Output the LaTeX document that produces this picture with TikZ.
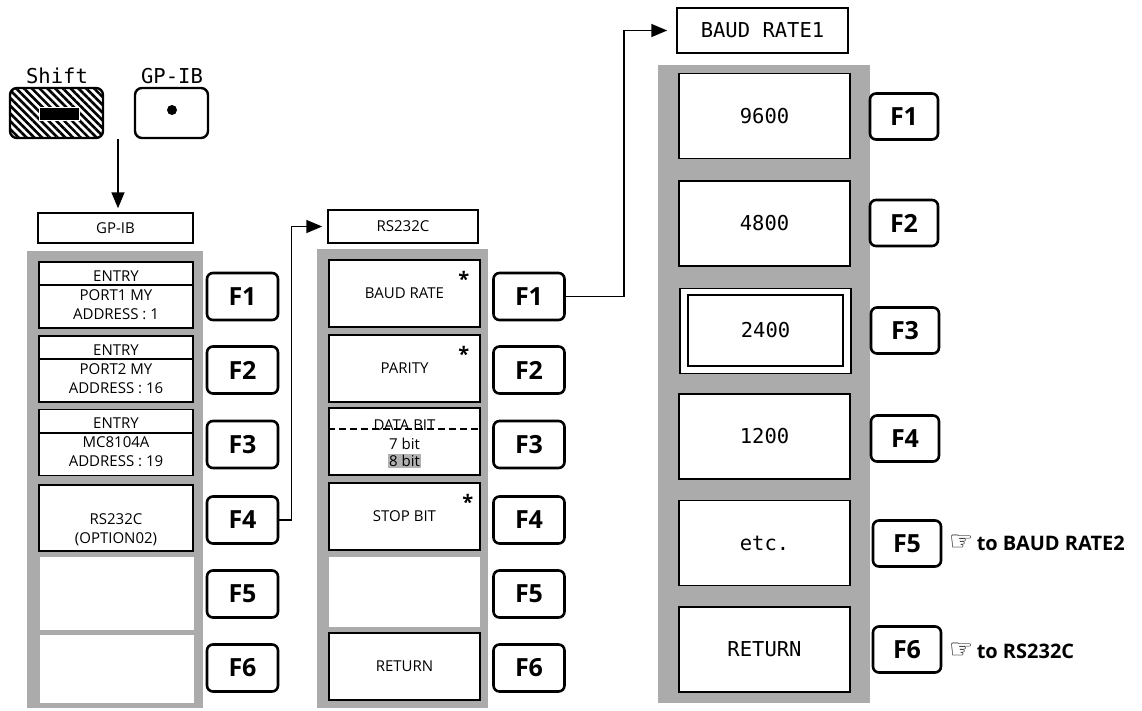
\documentclass[tikz,border=0pt]{standalone}
\usepackage{fontspec}
\setmainfont{Open Sans}
\newfontfamily\monof{DejaVu Sans Mono}
\newfontfamily\symf{DejaVu Sans}
\usetikzlibrary{arrows.meta,patterns.meta,calc}
\newcommand\menuf{\fontsize{15}{19}\selectfont}
\newcommand\fkeyf{\bfseries\fontsize{25}{25}\selectfont}
\newcommand\bigmono{\monof\fontsize{20.5}{20.5}\selectfont}
\begin{document}
\begin{tikzpicture}[x=1pt,y=-1pt,
  panel/.style={fill=black!33,inner sep=0pt},
  menuitem/.style={draw,line width=1.6pt,fill=white,inner sep=0pt,align=center,font=\menuf},
  monoitem/.style={draw,line width=1.6pt,fill=white,inner sep=0pt,align=center,font=\bigmono,minimum width=171pt,minimum height=85pt},
  blankitem/.style={fill=white,inner sep=0pt},
  fkey/.style={draw,line width=2.6pt,rounded corners=6pt,fill=white,inner sep=0pt,font=\fkeyf,minimum width=71pt,minimum height=47pt},
  titlebox/.style={draw,line width=1.5pt,inner sep=0pt,fill=white},
  keycap/.style={draw,line width=2.4pt,rounded corners=7pt,inner sep=0pt,minimum height=50pt},
  link/.style={line width=1.6pt,-{Triangle[length=16pt,width=13pt]}},
  star/.style={font=\bfseries\fontsize{20}{20}\selectfont,inner sep=0pt},
  note/.style={anchor=west,inner sep=0pt,font=\bfseries\fontsize{20}{20}\selectfont}
]
\useasboundingbox (0,0) rectangle (1142,710);

% ---------- keys ----------
\node[font=\bigmono] (shiftlbl) at (57,76) {Shift};
\node[font=\bigmono] (gplbl) at (172,76) {GP-IB};
\node[keycap,minimum width=93pt,pattern={Lines[angle=-45,distance=5.5pt,line width=2.6pt]}] (shift) at (56.5,113) {};
\node[fill=black,draw=white,line width=1pt,minimum width=40pt,minimum height=13pt,inner sep=0pt] (shiftbar) at (59,113.5) {};
\node[keycap,minimum width=73pt] (gpkey) at (171.5,113) {};
\node[circle,fill=black,inner sep=0pt,minimum size=10pt] (gpdot) at (172,110) {};

% ---------- GP-IB column ----------
\node[titlebox,font=\menuf,minimum width=155pt,minimum height=30pt] (gtitle) at (115.5,228) {GP-IB};
\coordinate (keysout) at (118,139);
\draw[link,shorten >=4pt] (keysout) -- (keysout |- gtitle.north);

\node[panel,minimum width=176pt,minimum height=457pt] (gpanel) at (115,479.5) {};
\node[menuitem,minimum width=154pt,minimum height=66pt] (g1) at (116,295) {ENTRY\\PORT1 MY\\ADDRESS : 1};
\node[menuitem,minimum width=154pt,minimum height=66pt] (g2) at (116,369) {ENTRY\\PORT2 MY\\ADDRESS : 16};
\node[menuitem,minimum width=154pt,minimum height=66pt] (g3) at (116,442.5) {ENTRY\\MC8104A\\ADDRESS : 19};
\foreach \n in {g1,g2,g3}
  \draw[line width=1.6pt] ($(\n.north west)+(0,24)$) -- ($(\n.north east)+(0,24)$);
\node[menuitem,minimum width=154pt,minimum height=66pt] (g4) at (116,518) {};
\node[font=\menuf,align=center,inner sep=0pt] (g4txt) at (116,529.5) {RS232C\\(OPTION02)};
\node[blankitem,minimum width=154pt,minimum height=73pt] (g5) at (117,593) {};
\node[blankitem,minimum width=154pt,minimum height=68pt] (g6) at (117,669) {};

\node[fkey] (gF1) at (242.5,296.5) {F1};
\node[fkey] (gF2) at (242.5,370) {F2};
\node[fkey] (gF3) at (242.5,444.5) {F3};
\node[fkey] (gF4) at (242.5,520) {F4};
\node[fkey] (gF5) at (242.5,594) {F5};
\node[fkey] (gF6) at (242.5,668) {F6};

% ---------- RS232C column ----------
\node[titlebox,font=\menuf,minimum width=150pt,minimum height=33pt] (rtitle) at (403,226.5) {RS232C};
\draw[link,shorten >=5pt] (gF4.east) -- ++(12,0) |- (rtitle.west);

\node[panel,minimum width=171pt,minimum height=459pt] (rpanel) at (402.5,478.5) {};
\node[menuitem,minimum width=151pt,minimum height=67pt] (r1) at (404.5,293.5) {BAUD RATE};
\node[menuitem,minimum width=151pt,minimum height=67pt] (r2) at (404.5,368.5) {PARITY};
\node[menuitem,minimum width=151pt,minimum height=67pt] (r3) at (404.5,441.5) {};
\draw[line width=1.8pt,dash pattern=on 7pt off 4pt] ($(r3.north west)+(0,22)$) -- ($(r3.north east)+(0,22)$);
\node[font=\menuf,inner sep=0pt,anchor=base] (r3a) at (404.5,430) {DATA BIT};
\node[font=\menuf,inner sep=0pt] (r3b) at (404.5,444) {7 bit};
\node[font=\menuf,inner sep=1pt,fill=black!30] (r3c) at (404.5,461) {8 bit};
\node[menuitem,minimum width=151pt,minimum height=67pt] (r4) at (404.5,516.5) {STOP BIT};
\node[blankitem,minimum width=151pt,minimum height=70pt] (r5) at (404.5,592) {};
\node[menuitem,minimum width=151pt,minimum height=67pt] (r6) at (404.5,666.5) {RETURN};
\node[star] (s1) at ($(r1.north east)+(-17,20)$) {*};
\node[star] (s2) at ($(r2.north east)+(-17,20)$) {*};
\node[star] (s4) at ($(r4.north east)+(-13,20)$) {*};

\node[fkey] (rF1) at (529,296.5) {F1};
\node[fkey] (rF2) at (529,370) {F2};
\node[fkey] (rF3) at (529,444.5) {F3};
\node[fkey] (rF4) at (529,520) {F4};
\node[fkey] (rF5) at (529,594) {F5};
\node[fkey] (rF6) at (529,668) {F6};

% ---------- BAUD RATE1 column ----------
\node[titlebox,font=\bigmono,minimum width=171pt,minimum height=45pt] (btitle) at (762.5,30.5) {BAUD RATE1};
\draw[link,shorten >=9pt] (rF1.east) -- ++(58,0) |- (btitle.west);

\node[panel,minimum width=212pt,minimum height=638pt] (bpanel) at (764,384) {};
\node[monoitem] (b1) at (764.5,116) {9600};
\node[monoitem] (b2) at (764.5,223.5) {4800};
\node[monoitem] (b3) at (765.5,331) {};
\node[draw,line width=1.3pt,minimum width=155pt,minimum height=71pt,inner sep=0pt,font=\bigmono] (b3in) at (765.5,330.5) {2400};
\node[monoitem] (b4) at (764.5,436.5) {1200};
\node[monoitem] (b5) at (764.5,543) {etc.};
\node[monoitem] (b6) at (764.5,649.5) {RETURN};

\node[fkey,minimum width=68pt,minimum height=46pt] (bF1) at (904,116.5) {F1};
\node[fkey,minimum width=68pt,minimum height=46pt] (bF2) at (904,223) {F2};
\node[fkey,minimum width=68pt,minimum height=46pt] (bF3) at (905,330.5) {F3};
\node[fkey,minimum width=68pt,minimum height=46pt] (bF4) at (905,438.5) {F4};
\node[fkey,minimum width=68pt,minimum height=46pt] (bF5) at (907,543.5) {F5};
\node[fkey,minimum width=68pt,minimum height=46pt] (bF6) at (907,649.5) {F6};

\node[note] (n5) at (949,543) {{\symf\mdseries\fontsize{27}{27}\selectfont ☞}\,to BAUD RATE2};
\node[note] (n6) at (949,651) {{\symf\mdseries\fontsize{27}{27}\selectfont ☞}\,to RS232C};
\end{tikzpicture}
\end{document}
